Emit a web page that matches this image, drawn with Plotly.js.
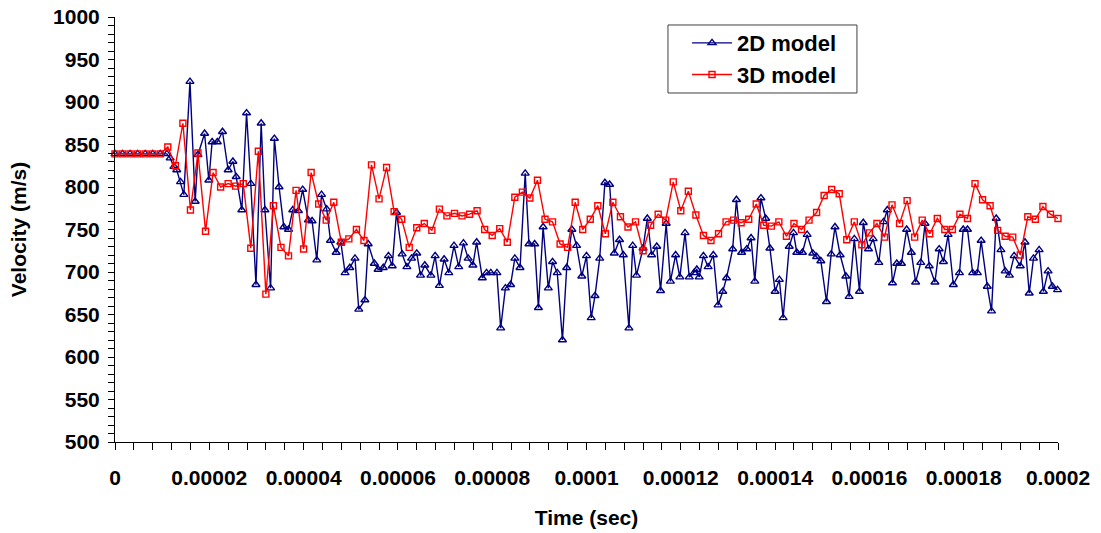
<!DOCTYPE html>
<html>
<head>
<meta charset="utf-8">
<script src="https://cdn.plot.ly/plotly-3.0.1.min.js"></script>
<style>
  html, body { margin: 0; padding: 0; background: #ffffff; }
  #chart { width: 1101px; height: 533px; }
</style>
</head>
<body>
<div id="chart"></div>
<script>
// Time (s) and velocity (m/s) of the 2D model
const time2D = [
  0, 1.6e-6, 3.2e-6, 4.8e-6, 6.4e-6, 8.0e-6, 9.6e-6, 11.0e-6, 11.7e-6, 12.5e-6,
  13.1e-6, 13.9e-6, 14.6e-6, 15.9e-6, 17.0e-6, 17.6e-6, 19.0e-6, 19.9e-6, 20.6e-6, 21.7e-6,
  22.8e-6, 24.0e-6, 25.0e-6, 25.7e-6, 26.9e-6, 27.9e-6, 28.8e-6, 29.9e-6, 31.0e-6, 31.8e-6,
  33.0e-6, 33.8e-6, 34.8e-6, 35.8e-6, 36.8e-6, 37.7e-6, 38.9e-6, 39.8e-6, 41.0e-6, 41.8e-6,
  42.8e-6, 43.8e-6, 44.9e-6, 45.7e-6, 46.9e-6, 47.9e-6, 48.8e-6, 49.8e-6, 50.9e-6, 51.7e-6,
  53.0e-6, 53.7e-6, 55.0e-6, 55.8e-6, 56.9e-6, 58.0e-6, 58.8e-6, 59.7e-6, 60.9e-6, 61.9e-6,
  62.9e-6, 64.0e-6, 64.8e-6, 65.7e-6, 67.0e-6, 67.9e-6, 68.8e-6, 69.8e-6, 70.8e-6, 71.9e-6,
  72.9e-6, 73.9e-6, 74.9e-6, 75.9e-6, 76.7e-6, 77.9e-6, 78.8e-6, 79.7e-6, 81.0e-6, 81.8e-6,
  82.8e-6, 83.9e-6, 84.8e-6, 85.9e-6, 87.0e-6, 87.8e-6, 89.0e-6, 89.8e-6, 90.8e-6, 91.9e-6,
  92.8e-6, 93.8e-6, 94.9e-6, 95.8e-6, 96.9e-6, 97.9e-6, 99.0e-6, 100.0e-6, 101.0e-6, 101.8e-6,
  102.8e-6, 103.9e-6, 104.9e-6, 105.9e-6, 107.0e-6, 107.8e-6, 109.0e-6, 109.8e-6, 110.6e-6, 112.0e-6,
  112.9e-6, 113.8e-6, 114.9e-6, 115.7e-6, 116.9e-6, 117.8e-6, 118.9e-6, 119.8e-6, 120.9e-6, 121.8e-6,
  122.8e-6, 123.4e-6, 123.9e-6, 124.8e-6, 125.8e-6, 126.9e-6, 127.9e-6, 128.9e-6, 129.7e-6, 131.0e-6,
  131.8e-6, 132.9e-6, 134.0e-6, 134.9e-6, 135.7e-6, 137.0e-6, 138.0e-6, 138.9e-6, 140.0e-6, 140.9e-6,
  141.7e-6, 143.0e-6, 143.9e-6, 144.6e-6, 145.8e-6, 146.8e-6, 148.0e-6, 148.8e-6, 149.7e-6, 150.9e-6,
  151.9e-6, 152.7e-6, 153.8e-6, 155.0e-6, 155.7e-6, 156.8e-6, 157.9e-6, 158.7e-6, 159.8e-6, 160.8e-6,
  162.0e-6, 163.0e-6, 163.8e-6, 164.9e-6, 165.8e-6, 166.8e-6, 167.9e-6, 168.9e-6, 169.8e-6, 170.9e-6,
  171.8e-6, 172.7e-6, 173.9e-6, 174.8e-6, 175.7e-6, 176.7e-6, 177.8e-6, 179.1e-6, 179.9e-6, 180.8e-6,
  181.9e-6, 182.9e-6, 183.7e-6, 185.0e-6, 185.9e-6, 186.9e-6, 187.9e-6, 188.8e-6, 189.7e-6, 190.7e-6,
  192.0e-6, 193.0e-6, 193.9e-6, 194.8e-6, 196.0e-6, 196.9e-6, 197.9e-6, 198.8e-6, 199.9e-6
];
const velocity2D = [
  839, 839, 839, 839, 839, 839, 839, 839, 834, 824,
  820, 806, 791, 924, 783, 838, 863, 808, 853, 853,
  865, 820, 830, 812, 773, 887, 804, 685, 875, 773,
  681, 857, 800, 753, 750, 773, 772, 797, 761, 760,
  714, 791, 774, 737, 723, 735, 699, 705, 716, 656,
  667, 733, 710, 703, 705, 719, 707, 770, 721, 706,
  716, 722, 696, 708, 696, 719, 684, 715, 699, 731,
  706, 734, 716, 708, 735, 693, 699, 699, 699, 634,
  681, 685, 716, 705, 816, 733, 733, 658, 753, 681,
  712, 699, 620, 705, 750, 731, 695, 719, 646, 672,
  716, 805, 803, 722, 738, 720, 634, 731, 696, 728,
  763, 720, 730, 678, 757, 689, 720, 694, 746, 694,
  699, 703, 694, 719, 706, 720, 661, 677, 693, 727,
  785, 723, 727, 740, 689, 787, 763, 728, 677, 691,
  646, 730, 746, 723, 723, 744, 722, 718, 713, 665,
  721, 753, 720, 695, 671, 739, 677, 758, 727, 739,
  711, 759, 773, 687, 710, 710, 750, 723, 688, 711,
  757, 707, 688, 727, 712, 744, 685, 699, 750, 750,
  699, 699, 737, 683, 654, 763, 726, 701, 696, 719,
  707, 735, 675, 716, 726, 677, 701, 683, 679
];

// Time (s) and velocity (m/s) of the 3D model
const time3D = [
  0, 1.6e-6, 3.2e-6, 4.8e-6, 6.4e-6, 8.0e-6, 9.6e-6, 11.2e-6, 12.8e-6, 14.4e-6,
  16.0e-6, 17.6e-6, 19.2e-6, 20.8e-6, 22.4e-6, 24.0e-6, 25.6e-6, 27.2e-6, 28.8e-6, 30.4e-6,
  32.0e-6, 33.6e-6, 35.2e-6, 36.8e-6, 38.4e-6, 40.0e-6, 41.6e-6, 43.2e-6, 44.8e-6, 46.4e-6,
  48.0e-6, 49.6e-6, 51.2e-6, 52.8e-6, 54.4e-6, 56.0e-6, 57.6e-6, 59.2e-6, 60.8e-6, 62.4e-6,
  64.0e-6, 65.6e-6, 67.2e-6, 68.8e-6, 70.4e-6, 72.0e-6, 73.6e-6, 75.2e-6, 76.8e-6, 78.4e-6,
  80.0e-6, 81.6e-6, 83.2e-6, 84.8e-6, 86.4e-6, 88.0e-6, 89.6e-6, 91.2e-6, 92.8e-6, 94.4e-6,
  96.0e-6, 97.6e-6, 99.2e-6, 100.8e-6, 102.4e-6, 104.0e-6, 105.6e-6, 107.2e-6, 108.8e-6, 110.4e-6,
  112.0e-6, 113.6e-6, 115.2e-6, 116.8e-6, 118.4e-6, 120.0e-6, 121.6e-6, 123.2e-6, 124.8e-6, 126.4e-6,
  128.0e-6, 129.6e-6, 131.2e-6, 132.8e-6, 134.4e-6, 136.0e-6, 137.6e-6, 139.2e-6, 140.8e-6, 142.4e-6,
  144.0e-6, 145.6e-6, 147.2e-6, 148.8e-6, 150.4e-6, 152.0e-6, 153.6e-6, 155.2e-6, 156.8e-6, 158.4e-6,
  160.0e-6, 161.6e-6, 163.2e-6, 164.8e-6, 166.4e-6, 168.0e-6, 169.6e-6, 171.2e-6, 172.8e-6, 174.4e-6,
  176.0e-6, 177.6e-6, 179.2e-6, 180.8e-6, 182.4e-6, 184.0e-6, 185.6e-6, 187.2e-6, 188.8e-6, 190.4e-6,
  192.0e-6, 193.6e-6, 195.2e-6, 196.8e-6, 198.4e-6, 200.0e-6
];
const velocity3D = [
  839, 839, 839, 839, 839, 839, 839, 847, 825, 875,
  773, 840, 748, 817, 800, 804, 801, 804, 728, 842,
  674, 778, 729, 719, 796, 727, 817, 780, 761, 782,
  735, 739, 750, 737, 826, 786, 823, 771, 762, 729,
  752, 757, 749, 774, 766, 769, 766, 768, 772, 750,
  743, 751, 735, 788, 794, 787, 808, 762, 759, 733,
  729, 782, 750, 762, 778, 745, 782, 765, 753, 759,
  725, 755, 768, 761, 806, 772, 795, 767, 743, 737,
  745, 759, 761, 758, 762, 780, 755, 754, 759, 742,
  757, 750, 761, 770, 790, 797, 792, 738, 759, 732,
  746, 757, 741, 779, 757, 784, 741, 761, 745, 763,
  750, 750, 768, 763, 804, 785, 778, 749, 742, 741,
  720, 765, 762, 777, 768, 763
];

// Axis ticks
const xTickVals = [0, 0.00002, 0.00004, 0.00006, 0.00008, 0.0001, 0.00012, 0.00014, 0.00016, 0.00018, 0.0002];
const xTickText = ['0', '0.00002', '0.00004', '0.00006', '0.00008', '0.0001', '0.00012', '0.00014', '0.00016', '0.00018', '0.0002'];
const yTickVals = [500, 550, 600, 650, 700, 750, 800, 850, 900, 950, 1000];

const seriesNames = ['2D model', '3D model'];

const FONT = 'Liberation Sans, Arial, Helvetica, sans-serif';
const boldFont = (size) => ({ family: FONT, size: size, color: '#000000', weight: 'bold' });

const traces = [
  {
    type: 'scatter', mode: 'lines+markers', name: seriesNames[0],
    x: time2D, y: velocity2D,
    line: { color: '#000080', width: 1.4 },
    marker: { symbol: 'triangle-up-open', size: 7, color: '#000080', line: { width: 1.4, color: '#000080' } },
    cliponaxis: false
  },
  {
    type: 'scatter', mode: 'lines+markers', name: seriesNames[1],
    x: time3D, y: velocity3D,
    line: { color: '#ff0000', width: 1.4 },
    marker: { symbol: 'square-open', size: 6, color: '#ff0000', line: { width: 1.4, color: '#ff0000' } },
    cliponaxis: false
  }
];

const layout = {
  width: 1101, height: 533,
  margin: { l: 115, r: 43, t: 17, b: 91, pad: 0 },
  paper_bgcolor: '#ffffff', plot_bgcolor: '#ffffff',
  showlegend: true,
  legend: {
    x: 0.6066, y: 0.988, xanchor: 'left', yanchor: 'top',
    bgcolor: 'rgba(0,0,0,0)', borderwidth: 0,
    font: boldFont(22), itemwidth: 40, tracegroupgap: 0
  },
  // legend frame
  shapes: [
    {
      type: 'rect', xref: 'paper', yref: 'paper',
      x0: 0.5864, x1: 0.7868, y0: 0.8212, y1: 0.9812,
      line: { color: '#404040', width: 1 }, fillcolor: '#ffffff', layer: 'below'
    }
  ],
  xaxis: {
    range: [0, 0.0002], autorange: false,
    showline: true, linecolor: '#000000', linewidth: 1,
    showgrid: false, zeroline: false,
    ticks: 'outside', ticklen: 7, tickwidth: 1, tickcolor: '#000000',
    tickmode: 'array', tickvals: xTickVals, ticktext: xTickText,
    tickfont: boldFont(21), ticklabelstandoff: 10,
    minor: { dtick: 0.000004, ticks: 'outside', ticklen: 7, tickwidth: 1, tickcolor: '#000000', showgrid: false },
    title: { text: 'Time (sec)', font: boldFont(21), standoff: 22 },
    automargin: false
  },
  yaxis: {
    range: [500, 1000], autorange: false,
    showline: true, linecolor: '#000000', linewidth: 1,
    showgrid: false, zeroline: false,
    ticks: 'outside', ticklen: 6, tickwidth: 1, tickcolor: '#000000',
    tickmode: 'array', tickvals: yTickVals,
    tickfont: boldFont(21), ticklabelstandoff: 4,
    minor: { dtick: 10, ticks: 'outside', ticklen: 6, tickwidth: 1, tickcolor: '#000000', showgrid: false },
    title: { text: 'Velocity (m/s)', font: boldFont(21), standoff: 20 },
    automargin: false
  }
};

Plotly.newPlot('chart', traces, layout, { displayModeBar: false, staticPlot: true });
</script>
</body>
</html>
